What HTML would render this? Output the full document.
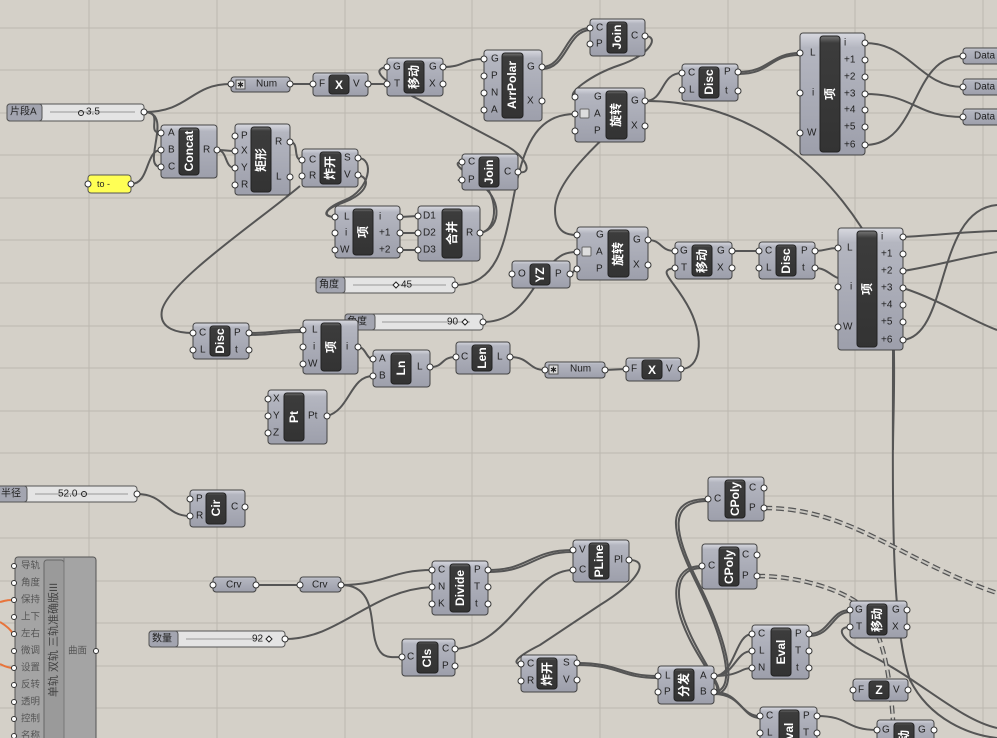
<!DOCTYPE html>
<html><head><meta charset="utf-8"><style>
html,body{margin:0;padding:0;background:#d4d0c8;}
svg{display:block;font-family:"Liberation Sans","Noto Sans CJK SC",sans-serif;}
.b{fill:url(#gb);stroke:#444;stroke-width:1}
.c{fill:url(#gc);stroke:#222;stroke-width:1}
.l{font-size:10px;fill:#222;dominant-baseline:central}
.r{text-anchor:end}
.t{font-size:12px;font-weight:bold;fill:#fff;text-anchor:middle;dominant-baseline:central}
.w{fill:none;stroke:#555;stroke-width:2}
.p{fill:#fff;stroke:#333;stroke-width:1}
.gr{stroke:#bcb8b0;stroke-width:1}
.s{fill:#e4e4e4;stroke:#555}
.sl{fill:#a3a5b0;stroke:#555}
.d1{fill:none;stroke:#555;stroke-width:4.5;stroke-dasharray:8 4}
.d2{fill:none;stroke:#c8c6c0;stroke-width:2;stroke-dasharray:8 4}
</style></head><body>
<svg width="997" height="738" viewBox="0 0 997 738">
<defs>
<linearGradient id="gb" x1="0" y1="0" x2="0" y2="1"><stop offset="0" stop-color="#d8d9e0"/><stop offset="0.12" stop-color="#b4b6c0"/><stop offset="1" stop-color="#9d9fab"/></linearGradient>
<linearGradient id="gc" x1="0" y1="0" x2="0" y2="1"><stop offset="0" stop-color="#777"/><stop offset="0.06" stop-color="#3c3c3c"/><stop offset="1" stop-color="#333"/></linearGradient>
</defs>
<rect width="997" height="738" fill="#d4d0c8"/>
<g class="gr">
<line x1="89" y1="0" x2="89" y2="738"/><line x1="217" y1="0" x2="217" y2="738"/><line x1="345" y1="0" x2="345" y2="738"/><line x1="472" y1="0" x2="472" y2="738"/><line x1="600" y1="0" x2="600" y2="738"/><line x1="728" y1="0" x2="728" y2="738"/><line x1="855" y1="0" x2="855" y2="738"/><line x1="983" y1="0" x2="983" y2="738"/>
<line x1="0" y1="28" x2="997" y2="28"/><line x1="0" y1="70" x2="997" y2="70"/><line x1="0" y1="113" x2="997" y2="113"/><line x1="0" y1="155" x2="997" y2="155"/><line x1="0" y1="198" x2="997" y2="198"/><line x1="0" y1="240" x2="997" y2="240"/><line x1="0" y1="283" x2="997" y2="283"/><line x1="0" y1="326" x2="997" y2="326"/><line x1="0" y1="368" x2="997" y2="368"/><line x1="0" y1="411" x2="997" y2="411"/><line x1="0" y1="453" x2="997" y2="453"/><line x1="0" y1="496" x2="997" y2="496"/><line x1="0" y1="538" x2="997" y2="538"/><line x1="0" y1="581" x2="997" y2="581"/><line x1="0" y1="623" x2="997" y2="623"/><line x1="0" y1="666" x2="997" y2="666"/><line x1="0" y1="708" x2="997" y2="708"/>
</g>

<!-- wires -->
<g class="w">
<path d="M144 112 C190 112 190 84 231 84"/>
<path d="M144 112 C165 112 145 133 161 133"/>
<path d="M144 112 C175 112 140 167 161 167"/>
<path d="M131 184 C150 184 145 150 161 150"/>
<path d="M217 150 C226 150 226 151 235 151"/>
<path d="M217 150 C228 150 224 168 235 168"/>
<path d="M290 142 C300 142 292 160 302 160"/>
<path d="M358 158 C375 158 370 190 345 200 C325 208 320 217 335 217"/>
<path d="M358 175 C372 178 368 194 342 203 C322 210 324 217 335 217"/>
<path d="M400 217 L418 216 M400 233 L418 233 M400 250 L418 250"/>
<path d="M480 233 C500 230 498 190 478 180 C465 173 450 162 462 162"/>
<path d="M480 233 C504 228 500 195 480 185 C466 180 452 180 462 180"/>
<path d="M290 84 L313 84 M368 84 L387 84"/>
<path d="M518 172 C535 175 525 155 505 145 L420 100 C395 88 365 70 387 67"/>
<path d="M443 67 C465 67 462 59 484 59"/>
<path d="M542 67 C565 67 565 28 590 28"/>
<path d="M542 69 C567 69 567 31 590 30"/>
<path d="M645 36 C660 36 650 55 620 65 C590 75 565 95 575 97"/>
<path d="M455 285 C500 285 505 240 515 190 C525 140 540 114 575 114"/>
<path d="M645 101 C665 101 660 73 682 73"/>
<path d="M645 101 C600 140 555 180 555 210 C555 235 570 235 577 235"/>
<path d="M645 101 C760 100 840 180 880 260 C900 300 893 400 893 450"/>
<path d="M483 322 C520 322 530 290 550 265 C560 255 565 252 577 252"/>
<path d="M570 274 C574 274 573 269 577 269"/>
<path d="M648 240 C662 240 660 251 675 251"/>
<path d="M681 369 C700 369 705 340 690 310 C675 280 655 270 675 268"/>
<path d="M732 251 L759 251"/>
<path d="M815 251 C826 251 826 248 838 248 M815 268 C826 268 830 275 838 278"/>
<path d="M738 72 C770 72 770 53 800 53"/>
<path d="M738 74 C772 74 768 55 800 55"/>
<path d="M865 43 C910 43 920 87 963 87"/>
<path d="M865 94 C915 94 915 117 963 117"/>
<path d="M865 145 C920 145 910 56 963 56"/>
<path d="M903 237 C940 235 960 232 997 231"/>
<path d="M903 271 C940 265 960 258 997 252"/>
<path d="M903 340 C950 335 935 210 997 205"/>
<path d="M903 288 C940 300 970 320 997 330"/>
<path d="M300 186 C260 220 170 280 162 310 C158 330 180 333 193 333"/>
<path d="M249 333 C275 333 278 330 303 330"/>
<path d="M249 335 C275 335 278 332 303 332"/>
<path d="M358 347 C366 347 366 359 373 359"/>
<path d="M327 416 C350 410 350 376 373 376"/>
<path d="M430 367 C445 367 440 357 456 357"/>
<path d="M510 357 C530 357 528 370 545 370"/>
<path d="M605 370 L626 369"/>
<path d="M137 494 C165 494 165 516 190 516"/>
<path d="M256 585 L300 585"/>
<path d="M341 585 C385 585 390 570 432 570"/>
<path d="M341 585 C375 585 370 620 375 640 C380 660 390 657 402 657"/>
<path d="M285 639 C340 639 370 590 432 587"/>
<path d="M488 570 C530 570 530 550 573 550"/>
<path d="M488 572 C532 572 532 552 573 552"/>
<path d="M455 649 C510 645 530 570 573 570"/>
<path d="M629 560 C650 560 640 580 600 605 L540 645 C510 660 515 664 521 664"/>
<path d="M577 663 C620 663 620 676 658 676"/>
<path d="M577 665 C620 665 620 678 658 678"/>
<path d="M714 676 C735 676 735 634 752 634"/>
<path d="M714 676 C735 676 735 651 752 651"/>
<path d="M714 676 C740 676 740 668 752 668"/>
<path d="M714 692 C740 692 740 716 760 716"/>
<path d="M714 694 C742 694 742 718 760 718"/>
<path d="M708 499 C665 499 670 530 695 580 C720 630 740 690 714 692"/>
<path d="M708 501 C668 501 673 532 698 582 C723 632 742 690 716 694"/>
<path d="M702 566 C670 566 670 600 690 640 C705 670 725 690 714 692"/>
<path d="M702 568 C673 568 673 600 693 640 C708 670 726 692 716 694"/>
<path d="M809 634 C830 634 830 610 850 610"/>
<path d="M809 636 C832 636 832 612 850 612"/>
<path d="M817 716 C850 716 845 730 877 730"/>
<path d="M850 627 C835 627 840 640 870 655 C920 680 960 720 997 728"/>
<path d="M893 350 C893 500 890 620 910 680 C930 720 970 735 997 738"/>
</g>
<path d="M0 602 C8 600 8 600 13 600 M0 622 Q10 628 13 634 M0 664 Q8 668 13 668" fill="none" stroke="#e8743b" stroke-width="2"/>
<path class="d1" d="M764 508 C850 508 900 560 997 593"/><path class="d2" d="M764 508 C850 508 900 560 997 593"/>
<path class="d1" d="M757 576 C800 576 840 590 858 603 C885 630 890 680 893 720"/><path class="d2" d="M757 576 C800 576 840 590 858 603 C885 630 890 680 893 720"/>

<!-- slider 片段A -->
<rect x="7" y="104" width="137" height="17" rx="3" class="s"/><rect x="7" y="104" width="35" height="17" rx="3" class="sl"/>
<text x="10" y="112" class="l">片段A</text><line x1="50" y1="112" x2="135" y2="112" stroke="#999"/><circle cx="81" cy="113" r="2.5" fill="none" stroke="#222"/><text x="86" y="112" class="l">3.5</text>
<circle cx="144" cy="112" r="3" class="p"/>
<!-- to - panel -->
<rect x="88" y="175" width="43" height="18" rx="3" fill="#ffff55" stroke="#555"/><text x="97" y="184" class="l" style="font-size:9px">to -</text>
<circle cx="88" cy="184" r="3" class="p"/><circle cx="131" cy="184" r="3" class="p"/>

<!-- Concat -->
<rect x="161" y="125" width="56" height="53" rx="3" class="b"/><rect x="179" y="128" width="20" height="47" rx="3" class="c"/>
<text class="t" transform="translate(189 151) rotate(-90)">Concat</text>
<text x="168" y="133" class="l">A</text><text x="168" y="150" class="l">B</text><text x="168" y="167" class="l">C</text><text x="203" y="150" class="l">R</text>
<circle cx="161" cy="133" r="3" class="p"/><circle cx="161" cy="150" r="3" class="p"/><circle cx="161" cy="167" r="3" class="p"/><circle cx="217" cy="150" r="3" class="p"/>

<!-- 矩形 -->
<rect x="235" y="124" width="55" height="71" rx="3" class="b"/><rect x="251" y="127" width="20" height="65" rx="3" class="c"/>
<text class="t" transform="translate(261 160) rotate(-90)">矩形</text>
<text x="241" y="136" class="l">P</text><text x="241" y="151" class="l">X</text><text x="241" y="168" class="l">Y</text><text x="241" y="185" class="l">R</text><text x="275" y="142" class="l">R</text><text x="276" y="177" class="l">L</text>
<circle cx="235" cy="136" r="3" class="p"/><circle cx="235" cy="151" r="3" class="p"/><circle cx="235" cy="168" r="3" class="p"/><circle cx="235" cy="185" r="3" class="p"/><circle cx="290" cy="142" r="3" class="p"/><circle cx="290" cy="177" r="3" class="p"/>

<!-- 炸开1 -->
<rect x="302" y="149" width="56" height="38" rx="3" class="b"/><rect x="320" y="152" width="21" height="32" rx="3" class="c"/>
<text class="t" transform="translate(330 168) rotate(-90)">炸开</text>
<text x="309" y="160" class="l">C</text><text x="309" y="176" class="l">R</text><text x="344" y="158" class="l">S</text><text x="344" y="175" class="l">V</text>
<circle cx="302" cy="160" r="3" class="p"/><circle cx="302" cy="176" r="3" class="p"/><circle cx="358" cy="158" r="3" class="p"/><circle cx="358" cy="175" r="3" class="p"/>

<!-- Num1 -->
<rect x="231" y="77" width="59" height="15" rx="3" class="b"/><rect x="236" y="80" width="9" height="9" fill="#ddd" stroke="#555"/><text x="240.5" y="85" class="l" style="text-anchor:middle;font-size:8px">✱</text><text x="256" y="84" class="l">Num</text>
<circle cx="231" cy="84" r="3" class="p"/><circle cx="290" cy="84" r="3" class="p"/>
<!-- X1 -->
<rect x="313" y="73" width="55" height="23" rx="3" class="b"/><rect x="329" y="75" width="20" height="19" rx="3" class="c"/><text class="t" x="339" y="85">X</text>
<text x="319" y="84" class="l">F</text><text x="353" y="84" class="l">V</text><circle cx="313" cy="84" r="3" class="p"/><circle cx="368" cy="84" r="3" class="p"/>

<!-- 移动1 -->
<rect x="387" y="58" width="56" height="38" rx="3" class="b"/><rect x="404" y="61" width="20" height="32" rx="3" class="c"/>
<text class="t" transform="translate(414 77) rotate(-90)">移动</text>
<text x="393" y="67" class="l">G</text><text x="394" y="84" class="l">T</text><text x="429" y="67" class="l">G</text><text x="429" y="84" class="l">X</text>
<circle cx="387" cy="67" r="3" class="p"/><circle cx="387" cy="84" r="3" class="p"/><circle cx="443" cy="67" r="3" class="p"/><circle cx="443" cy="84" r="3" class="p"/>

<!-- ArrPolar -->
<rect x="484" y="50" width="58" height="71" rx="3" class="b"/><rect x="502" y="53" width="21" height="65" rx="3" class="c"/>
<text class="t" transform="translate(512 85) rotate(-90)">ArrPolar</text>
<text x="491" y="59" class="l">G</text><text x="491" y="76" class="l">P</text><text x="491" y="93" class="l">N</text><text x="491" y="110" class="l">A</text><text x="527" y="67" class="l">G</text><text x="527" y="101" class="l">X</text>
<circle cx="484" cy="59" r="3" class="p"/><circle cx="484" cy="76" r="3" class="p"/><circle cx="484" cy="93" r="3" class="p"/><circle cx="484" cy="110" r="3" class="p"/><circle cx="542" cy="67" r="3" class="p"/><circle cx="542" cy="101" r="3" class="p"/>

<!-- Join1 -->
<rect x="590" y="19" width="55" height="37" rx="3" class="b"/><rect x="607" y="22" width="20" height="31" rx="3" class="c"/>
<text class="t" transform="translate(617 37) rotate(-90)">Join</text>
<text x="596" y="28" class="l">C</text><text x="596" y="44" class="l">P</text><text x="631" y="36" class="l">C</text>
<circle cx="590" cy="28" r="3" class="p"/><circle cx="590" cy="44" r="3" class="p"/><circle cx="645" cy="36" r="3" class="p"/>

<!-- 旋转1 -->
<rect x="575" y="88" width="70" height="54" rx="3" class="b"/><rect x="606" y="91" width="21" height="48" rx="3" class="c"/>
<text class="t" transform="translate(616 115) rotate(-90)">旋转</text><rect x="580" y="109" width="9" height="9" rx="1" fill="#ddd" stroke="#666"/>
<text x="594" y="97" class="l">G</text><text x="594" y="114" class="l">A</text><text x="594" y="131" class="l">P</text><text x="631" y="101" class="l">G</text><text x="631" y="126" class="l">X</text>
<circle cx="575" cy="97" r="3" class="p"/><circle cx="575" cy="114" r="3" class="p"/><circle cx="575" cy="131" r="3" class="p"/><circle cx="645" cy="101" r="3" class="p"/><circle cx="645" cy="126" r="3" class="p"/>

<!-- Join2 -->
<rect x="462" y="154" width="56" height="36" rx="3" class="b"/><rect x="479" y="157" width="20" height="30" rx="3" class="c"/>
<text class="t" transform="translate(489 172) rotate(-90)">Join</text>
<text x="468" y="162" class="l">C</text><text x="468" y="180" class="l">P</text><text x="504" y="172" class="l">C</text>
<circle cx="462" cy="162" r="3" class="p"/><circle cx="462" cy="180" r="3" class="p"/><circle cx="518" cy="172" r="3" class="p"/>

<!-- Disc1 -->
<rect x="682" y="64" width="56" height="37" rx="3" class="b"/><rect x="699" y="67" width="20" height="31" rx="3" class="c"/>
<text class="t" transform="translate(709 82) rotate(-90)">Disc</text>
<text x="688" y="73" class="l">C</text><text x="689" y="90" class="l">L</text><text x="724" y="72" class="l">P</text><text x="725" y="91" class="l">t</text>
<circle cx="682" cy="73" r="3" class="p"/><circle cx="682" cy="90" r="3" class="p"/><circle cx="738" cy="72" r="3" class="p"/><circle cx="738" cy="91" r="3" class="p"/>

<!-- 项1 -->
<rect x="800" y="33" width="65" height="122" rx="3" class="b"/><rect x="820" y="36" width="20" height="116" rx="3" class="c"/>
<text class="t" transform="translate(830 94) rotate(-90)">项</text>
<text x="810" y="53" class="l">L</text><text x="812" y="93" class="l">i</text><text x="807" y="133" class="l">W</text>
<text x="844" y="43" class="l">i</text><text x="844" y="60" class="l">+1</text><text x="844" y="77" class="l">+2</text><text x="844" y="94" class="l">+3</text><text x="844" y="110" class="l">+4</text><text x="844" y="127" class="l">+5</text><text x="844" y="145" class="l">+6</text>
<circle cx="800" cy="53" r="3" class="p"/><circle cx="800" cy="93" r="3" class="p"/><circle cx="800" cy="133" r="3" class="p"/>
<circle cx="865" cy="43" r="3" class="p"/><circle cx="865" cy="60" r="3" class="p"/><circle cx="865" cy="77" r="3" class="p"/><circle cx="865" cy="94" r="3" class="p"/><circle cx="865" cy="110" r="3" class="p"/><circle cx="865" cy="127" r="3" class="p"/><circle cx="865" cy="145" r="3" class="p"/>

<!-- Data -->
<rect x="963" y="48" width="42" height="16" rx="3" class="b"/><text x="974" y="56" class="l">Data</text><circle cx="963" cy="56" r="3" class="p"/>
<rect x="963" y="79" width="42" height="16" rx="3" class="b"/><text x="974" y="87" class="l">Data</text><circle cx="963" cy="87" r="3" class="p"/>
<rect x="963" y="109" width="42" height="16" rx="3" class="b"/><text x="974" y="117" class="l">Data</text><circle cx="963" cy="117" r="3" class="p"/>

<!-- 项2 -->
<rect x="335" y="206" width="65" height="52" rx="3" class="b"/><rect x="353" y="209" width="20" height="46" rx="3" class="c"/>
<text class="t" transform="translate(363 232) rotate(-90)">项</text>
<text x="344" y="217" class="l">L</text><text x="345" y="233" class="l">i</text><text x="340" y="250" class="l">W</text><text x="379" y="217" class="l">i</text><text x="379" y="233" class="l">+1</text><text x="379" y="250" class="l">+2</text>
<circle cx="335" cy="217" r="3" class="p"/><circle cx="335" cy="233" r="3" class="p"/><circle cx="335" cy="250" r="3" class="p"/><circle cx="400" cy="217" r="3" class="p"/><circle cx="400" cy="233" r="3" class="p"/><circle cx="400" cy="250" r="3" class="p"/>

<!-- 合并 -->
<rect x="418" y="206" width="62" height="55" rx="3" class="b"/><rect x="442" y="209" width="20" height="49" rx="3" class="c"/>
<text class="t" transform="translate(452 233) rotate(-90)">合并</text>
<text x="423" y="216" class="l">D1</text><text x="423" y="233" class="l">D2</text><text x="423" y="250" class="l">D3</text><text x="466" y="233" class="l">R</text>
<circle cx="418" cy="216" r="3" class="p"/><circle cx="418" cy="233" r="3" class="p"/><circle cx="418" cy="250" r="3" class="p"/><circle cx="480" cy="233" r="3" class="p"/>

<!-- 角度45 -->
<rect x="316" y="277" width="139" height="16" rx="3" class="s"/><rect x="316" y="277" width="29" height="16" rx="3" class="sl"/>
<text x="319" y="285" class="l">角度</text><line x1="353" y1="285" x2="446" y2="285" stroke="#999"/><path d="M396 282 L399 285 L396 288 L393 285Z" fill="#fff" stroke="#222"/><text x="401" y="285" class="l">45</text>
<circle cx="455" cy="285" r="3" class="p"/>

<!-- 旋转2 -->
<rect x="577" y="227" width="71" height="53" rx="3" class="b"/><rect x="608" y="230" width="21" height="47" rx="3" class="c"/>
<text class="t" transform="translate(618 254) rotate(-90)">旋转</text><rect x="582" y="247" width="9" height="9" rx="1" fill="#ddd" stroke="#666"/>
<text x="596" y="235" class="l">G</text><text x="596" y="252" class="l">A</text><text x="596" y="269" class="l">P</text><text x="633" y="240" class="l">G</text><text x="633" y="265" class="l">X</text>
<circle cx="577" cy="235" r="3" class="p"/><circle cx="577" cy="252" r="3" class="p"/><circle cx="577" cy="269" r="3" class="p"/><circle cx="648" cy="240" r="3" class="p"/><circle cx="648" cy="265" r="3" class="p"/>

<!-- YZ -->
<rect x="512" y="261" width="58" height="27" rx="3" class="b"/><rect x="530" y="264" width="20" height="21" rx="3" class="c"/>
<text class="t" transform="translate(540 275) rotate(-90)">YZ</text>
<text x="518" y="274" class="l">O</text><text x="555" y="274" class="l">P</text><circle cx="512" cy="274" r="3" class="p"/><circle cx="570" cy="274" r="3" class="p"/>

<!-- 角度90 -->
<rect x="345" y="314" width="138" height="16" rx="3" class="s"/><rect x="345" y="314" width="30" height="16" rx="3" class="sl"/>
<text x="347" y="322" class="l">角度</text><line x1="382" y1="322" x2="470" y2="322" stroke="#999"/><text x="447" y="322" class="l">90</text><path d="M465 319 L468 322 L465 325 L462 322Z" fill="#fff" stroke="#222"/>
<circle cx="483" cy="322" r="3" class="p"/>

<!-- 移动2 -->
<rect x="675" y="242" width="57" height="37" rx="3" class="b"/><rect x="692" y="245" width="20" height="31" rx="3" class="c"/>
<text class="t" transform="translate(702 261) rotate(-90)">移动</text>
<text x="680" y="251" class="l">G</text><text x="681" y="268" class="l">T</text><text x="717" y="251" class="l">G</text><text x="717" y="268" class="l">X</text>
<circle cx="675" cy="251" r="3" class="p"/><circle cx="675" cy="268" r="3" class="p"/><circle cx="732" cy="251" r="3" class="p"/><circle cx="732" cy="268" r="3" class="p"/>

<!-- Disc2 -->
<rect x="759" y="242" width="56" height="37" rx="3" class="b"/><rect x="776" y="245" width="20" height="31" rx="3" class="c"/>
<text class="t" transform="translate(786 261) rotate(-90)">Disc</text>
<text x="765" y="251" class="l">C</text><text x="766" y="268" class="l">L</text><text x="801" y="251" class="l">P</text><text x="802" y="268" class="l">t</text>
<circle cx="759" cy="251" r="3" class="p"/><circle cx="759" cy="268" r="3" class="p"/><circle cx="815" cy="251" r="3" class="p"/><circle cx="815" cy="268" r="3" class="p"/>

<!-- 项3 -->
<rect x="838" y="228" width="65" height="122" rx="3" class="b"/><rect x="857" y="231" width="20" height="116" rx="3" class="c"/>
<text class="t" transform="translate(867 289) rotate(-90)">项</text>
<text x="847" y="248" class="l">L</text><text x="850" y="287" class="l">i</text><text x="843" y="327" class="l">W</text>
<text x="881" y="237" class="l">i</text><text x="881" y="254" class="l">+1</text><text x="881" y="271" class="l">+2</text><text x="881" y="288" class="l">+3</text><text x="881" y="305" class="l">+4</text><text x="881" y="322" class="l">+5</text><text x="881" y="340" class="l">+6</text>
<circle cx="838" cy="248" r="3" class="p"/><circle cx="838" cy="287" r="3" class="p"/><circle cx="838" cy="327" r="3" class="p"/>
<circle cx="903" cy="237" r="3" class="p"/><circle cx="903" cy="254" r="3" class="p"/><circle cx="903" cy="271" r="3" class="p"/><circle cx="903" cy="288" r="3" class="p"/><circle cx="903" cy="305" r="3" class="p"/><circle cx="903" cy="322" r="3" class="p"/><circle cx="903" cy="340" r="3" class="p"/>

<!-- Disc3 -->
<rect x="193" y="323" width="56" height="36" rx="3" class="b"/><rect x="210" y="326" width="20" height="30" rx="3" class="c"/>
<text class="t" transform="translate(220 341) rotate(-90)">Disc</text>
<text x="199" y="333" class="l">C</text><text x="200" y="350" class="l">L</text><text x="234" y="333" class="l">P</text><text x="235" y="350" class="l">t</text>
<circle cx="193" cy="333" r="3" class="p"/><circle cx="193" cy="350" r="3" class="p"/><circle cx="249" cy="333" r="3" class="p"/><circle cx="249" cy="350" r="3" class="p"/>

<!-- 项4 -->
<rect x="303" y="320" width="55" height="54" rx="3" class="b"/><rect x="321" y="323" width="20" height="48" rx="3" class="c"/>
<text class="t" transform="translate(331 347) rotate(-90)">项</text>
<text x="312" y="330" class="l">L</text><text x="313" y="347" class="l">i</text><text x="308" y="364" class="l">W</text><text x="346" y="347" class="l">i</text>
<circle cx="303" cy="330" r="3" class="p"/><circle cx="303" cy="347" r="3" class="p"/><circle cx="303" cy="364" r="3" class="p"/><circle cx="358" cy="347" r="3" class="p"/>

<!-- Ln -->
<rect x="373" y="350" width="57" height="37" rx="3" class="b"/><rect x="391" y="353" width="20" height="31" rx="3" class="c"/>
<text class="t" transform="translate(401 368) rotate(-90)">Ln</text>
<text x="379" y="359" class="l">A</text><text x="379" y="376" class="l">B</text><text x="417" y="367" class="l">L</text>
<circle cx="373" cy="359" r="3" class="p"/><circle cx="373" cy="376" r="3" class="p"/><circle cx="430" cy="367" r="3" class="p"/>

<!-- Len -->
<rect x="456" y="342" width="54" height="32" rx="3" class="b"/><rect x="472" y="345" width="20" height="26" rx="3" class="c"/>
<text class="t" transform="translate(482 358) rotate(-90)">Len</text>
<text x="461" y="357" class="l">C</text><text x="497" y="357" class="l">L</text>
<circle cx="456" cy="357" r="3" class="p"/><circle cx="510" cy="357" r="3" class="p"/>

<!-- Num2 -->
<rect x="545" y="362" width="60" height="16" rx="3" class="b"/><rect x="549" y="365" width="9" height="9" fill="#ddd" stroke="#555"/><text x="553.5" y="370" class="l" style="text-anchor:middle;font-size:8px">✱</text><text x="570" y="369" class="l">Num</text>
<circle cx="545" cy="370" r="3" class="p"/><circle cx="605" cy="370" r="3" class="p"/>
<!-- X2 -->
<rect x="626" y="358" width="55" height="23" rx="3" class="b"/><rect x="642" y="360" width="20" height="19" rx="3" class="c"/><text class="t" x="652" y="370">X</text>
<text x="631" y="369" class="l">F</text><text x="666" y="369" class="l">V</text><circle cx="626" cy="369" r="3" class="p"/><circle cx="681" cy="369" r="3" class="p"/>

<!-- Pt -->
<rect x="268" y="390" width="59" height="54" rx="3" class="b"/><rect x="284" y="393" width="20" height="48" rx="3" class="c"/>
<text class="t" transform="translate(294 417) rotate(-90)">Pt</text>
<text x="273" y="399" class="l">X</text><text x="273" y="416" class="l">Y</text><text x="273" y="433" class="l">Z</text><text x="308" y="416" class="l">Pt</text>
<circle cx="268" cy="399" r="3" class="p"/><circle cx="268" cy="416" r="3" class="p"/><circle cx="268" cy="433" r="3" class="p"/><circle cx="327" cy="416" r="3" class="p"/>

<!-- 半径 -->
<rect x="-3" y="486" width="140" height="16" rx="3" class="s"/><rect x="-3" y="486" width="30" height="16" rx="3" class="sl"/>
<text x="1" y="494" class="l">半径</text><line x1="35" y1="494" x2="128" y2="494" stroke="#999"/><text x="58" y="494" class="l">52.0</text><circle cx="84" cy="494" r="2.5" fill="none" stroke="#222"/>
<circle cx="137" cy="494" r="3" class="p"/>

<!-- Cir -->
<rect x="190" y="490" width="55" height="37" rx="3" class="b"/><rect x="206" y="493" width="20" height="31" rx="3" class="c"/>
<text class="t" transform="translate(216 508) rotate(-90)">Cir</text>
<text x="196" y="499" class="l">P</text><text x="196" y="516" class="l">R</text><text x="231" y="507" class="l">C</text>
<circle cx="190" cy="499" r="3" class="p"/><circle cx="190" cy="516" r="3" class="p"/><circle cx="245" cy="507" r="3" class="p"/>

<!-- big component -->
<rect x="15" y="557" width="81" height="190" rx="3" fill="#a4a4a4" stroke="#555"/>
<rect x="44" y="560" width="20" height="185" rx="3" fill="#9a9a9a" stroke="#666"/>
<line x1="64" y1="557" x2="64" y2="738" stroke="#777"/>
<text transform="translate(54 640) rotate(-90)" style="font-size:11px;fill:#444;text-anchor:middle;dominant-baseline:central">单轨 双轨 三轨准确版III</text>
<g style="font-size:9.5px;fill:#555">
<text x="21" y="566" dominant-baseline="central">导轨</text><text x="21" y="583" dominant-baseline="central">角度</text><text x="21" y="600" dominant-baseline="central">保持</text><text x="21" y="617" dominant-baseline="central">上下</text><text x="21" y="634" dominant-baseline="central">左右</text><text x="21" y="651" dominant-baseline="central">微调</text><text x="21" y="668" dominant-baseline="central">设置</text><text x="21" y="685" dominant-baseline="central">反转</text><text x="21" y="702" dominant-baseline="central">透明</text><text x="21" y="719" dominant-baseline="central">控制</text><text x="21" y="736" dominant-baseline="central">名称</text>
<text x="68" y="651" dominant-baseline="central">曲面</text>
</g>
<g><circle cx="14" cy="566" r="2.5" class="p"/><circle cx="14" cy="583" r="2.5" class="p"/><circle cx="14" cy="600" r="2.5" class="p"/><circle cx="14" cy="617" r="2.5" class="p"/><circle cx="14" cy="634" r="2.5" class="p"/><circle cx="14" cy="651" r="2.5" class="p"/><circle cx="14" cy="668" r="2.5" class="p"/><circle cx="14" cy="685" r="2.5" class="p"/><circle cx="14" cy="702" r="2.5" class="p"/><circle cx="14" cy="719" r="2.5" class="p"/><circle cx="14" cy="736" r="2.5" class="p"/><circle cx="96" cy="651" r="2.5" class="p"/></g>

<!-- Crv -->
<rect x="213" y="577" width="43" height="15" rx="3" class="b"/><text x="226" y="585" class="l">Crv</text><circle cx="213" cy="585" r="3" class="p"/><circle cx="256" cy="585" r="3" class="p"/>
<rect x="300" y="577" width="41" height="15" rx="3" class="b"/><text x="312" y="585" class="l">Crv</text><circle cx="300" cy="585" r="3" class="p"/><circle cx="341" cy="585" r="3" class="p"/>

<!-- 数量 -->
<rect x="149" y="631" width="136" height="16" rx="3" class="s"/><rect x="149" y="631" width="29" height="16" rx="3" class="sl"/>
<text x="152" y="639" class="l">数量</text><line x1="186" y1="639" x2="262" y2="639" stroke="#999"/><text x="252" y="639" class="l">92</text><path d="M269 636 L272 639 L269 642 L266 639Z" fill="#fff" stroke="#222"/>
<circle cx="285" cy="639" r="3" class="p"/>

<!-- Divide -->
<rect x="432" y="561" width="56" height="54" rx="3" class="b"/><rect x="450" y="564" width="20" height="48" rx="3" class="c"/>
<text class="t" transform="translate(460 588) rotate(-90)">Divide</text>
<text x="438" y="570" class="l">C</text><text x="438" y="587" class="l">N</text><text x="438" y="604" class="l">K</text><text x="474" y="570" class="l">P</text><text x="474" y="587" class="l">T</text><text x="475" y="604" class="l">t</text>
<circle cx="432" cy="570" r="3" class="p"/><circle cx="432" cy="587" r="3" class="p"/><circle cx="432" cy="604" r="3" class="p"/><circle cx="488" cy="570" r="3" class="p"/><circle cx="488" cy="587" r="3" class="p"/><circle cx="488" cy="604" r="3" class="p"/>

<!-- PLine -->
<rect x="573" y="540" width="56" height="42" rx="3" class="b"/><rect x="589" y="543" width="20" height="36" rx="3" class="c"/>
<text class="t" transform="translate(599 561) rotate(-90)">PLine</text>
<text x="579" y="550" class="l">V</text><text x="579" y="570" class="l">C</text><text x="614" y="560" class="l">Pl</text>
<circle cx="573" cy="550" r="3" class="p"/><circle cx="573" cy="570" r="3" class="p"/><circle cx="629" cy="560" r="3" class="p"/>

<!-- Cls -->
<rect x="402" y="639" width="53" height="37" rx="3" class="b"/><rect x="417" y="642" width="21" height="31" rx="3" class="c"/>
<text class="t" transform="translate(427 658) rotate(-90)">Cls</text>
<text x="407" y="657" class="l">C</text><text x="442" y="649" class="l">C</text><text x="442" y="666" class="l">P</text>
<circle cx="402" cy="657" r="3" class="p"/><circle cx="455" cy="649" r="3" class="p"/><circle cx="455" cy="666" r="3" class="p"/>

<!-- 炸开2 -->
<rect x="521" y="655" width="56" height="37" rx="3" class="b"/><rect x="537" y="658" width="20" height="31" rx="3" class="c"/>
<text class="t" transform="translate(547 674) rotate(-90)">炸开</text>
<text x="527" y="664" class="l">C</text><text x="527" y="681" class="l">R</text><text x="563" y="663" class="l">S</text><text x="563" y="680" class="l">V</text>
<circle cx="521" cy="664" r="3" class="p"/><circle cx="521" cy="681" r="3" class="p"/><circle cx="577" cy="663" r="3" class="p"/><circle cx="577" cy="680" r="3" class="p"/>

<!-- CPoly1 -->
<rect x="708" y="477" width="56" height="44" rx="3" class="b"/><rect x="725" y="480" width="20" height="38" rx="3" class="c"/>
<text class="t" transform="translate(735 499) rotate(-90)">CPoly</text>
<text x="714" y="499" class="l">C</text><text x="749" y="488" class="l">C</text><text x="749" y="508" class="l">P</text>
<circle cx="708" cy="499" r="3" class="p"/><circle cx="764" cy="488" r="3" class="p"/><circle cx="764" cy="508" r="3" class="p"/>

<!-- CPoly2 -->
<rect x="702" y="544" width="55" height="45" rx="3" class="b"/><rect x="719" y="547" width="20" height="39" rx="3" class="c"/>
<text class="t" transform="translate(729 567) rotate(-90)">CPoly</text>
<text x="708" y="566" class="l">C</text><text x="742" y="555" class="l">C</text><text x="742" y="576" class="l">P</text>
<circle cx="702" cy="566" r="3" class="p"/><circle cx="757" cy="555" r="3" class="p"/><circle cx="757" cy="576" r="3" class="p"/>

<!-- 分发 -->
<rect x="658" y="666" width="56" height="38" rx="3" class="b"/><rect x="674" y="669" width="20" height="32" rx="3" class="c"/>
<text class="t" transform="translate(684 685) rotate(-90)">分发</text>
<text x="665" y="676" class="l">L</text><text x="664" y="692" class="l">P</text><text x="700" y="676" class="l">A</text><text x="700" y="692" class="l">B</text>
<circle cx="658" cy="676" r="3" class="p"/><circle cx="658" cy="692" r="3" class="p"/><circle cx="714" cy="676" r="3" class="p"/><circle cx="714" cy="692" r="3" class="p"/>

<!-- Eval1 -->
<rect x="752" y="625" width="57" height="54" rx="3" class="b"/><rect x="771" y="628" width="20" height="48" rx="3" class="c"/>
<text class="t" transform="translate(781 652) rotate(-90)">Eval</text>
<text x="758" y="634" class="l">C</text><text x="759" y="651" class="l">L</text><text x="758" y="668" class="l">N</text><text x="795" y="634" class="l">P</text><text x="795" y="651" class="l">T</text><text x="796" y="668" class="l">t</text>
<circle cx="752" cy="634" r="3" class="p"/><circle cx="752" cy="651" r="3" class="p"/><circle cx="752" cy="668" r="3" class="p"/><circle cx="809" cy="634" r="3" class="p"/><circle cx="809" cy="651" r="3" class="p"/><circle cx="809" cy="668" r="3" class="p"/>

<!-- 移动3 -->
<rect x="850" y="601" width="57" height="37" rx="3" class="b"/><rect x="867" y="604" width="20" height="31" rx="3" class="c"/>
<text class="t" transform="translate(877 620) rotate(-90)">移动</text>
<text x="855" y="610" class="l">G</text><text x="856" y="627" class="l">T</text><text x="892" y="610" class="l">G</text><text x="892" y="627" class="l">X</text>
<circle cx="850" cy="610" r="3" class="p"/><circle cx="850" cy="627" r="3" class="p"/><circle cx="907" cy="610" r="3" class="p"/><circle cx="907" cy="627" r="3" class="p"/>

<!-- Z -->
<rect x="853" y="679" width="55" height="22" rx="3" class="b"/><rect x="869" y="681" width="20" height="18" rx="3" class="c"/><text class="t" x="879" y="690">Z</text>
<text x="858" y="690" class="l">F</text><text x="893" y="690" class="l">V</text><circle cx="853" cy="690" r="3" class="p"/><circle cx="908" cy="690" r="3" class="p"/>

<!-- Eval2 -->
<rect x="760" y="707" width="57" height="40" rx="3" class="b"/><rect x="779" y="710" width="20" height="40" rx="3" class="c"/>
<text class="t" transform="translate(789 735) rotate(-90)">Eval</text>
<text x="766" y="716" class="l">C</text><text x="767" y="733" class="l">L</text><text x="803" y="716" class="l">P</text><text x="803" y="733" class="l">T</text>
<circle cx="760" cy="716" r="3" class="p"/><circle cx="760" cy="733" r="3" class="p"/><circle cx="817" cy="716" r="3" class="p"/><circle cx="817" cy="733" r="3" class="p"/>

<!-- 移动4 -->
<rect x="877" y="720" width="57" height="30" rx="3" class="b"/><rect x="894" y="723" width="20" height="30" rx="3" class="c"/>
<text class="t" transform="translate(904 742) rotate(-90)">移动</text>
<text x="882" y="730" class="l">G</text><text x="918" y="730" class="l">G</text>
<circle cx="877" cy="730" r="3" class="p"/><circle cx="934" cy="730" r="3" class="p"/>
</svg>
</body></html>
